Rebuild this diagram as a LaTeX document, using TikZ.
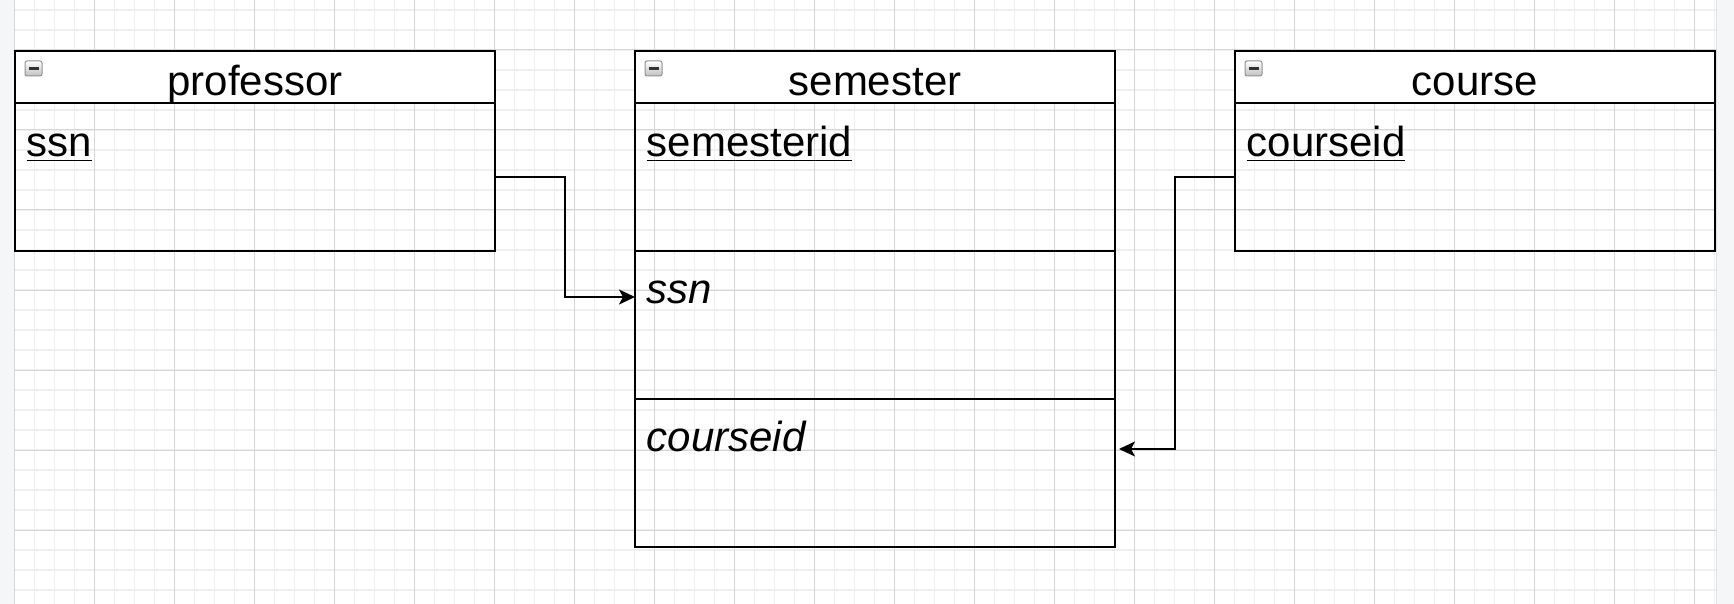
\documentclass[tikz,border=0pt]{standalone}
\usepackage{fontspec}
\setmainfont{Liberation Sans}
\usetikzlibrary{arrows.meta,positioning}
\definecolor{majorgrid}{HTML}{D6D6D6}
\definecolor{minorgrid}{HTML}{EFEFEF}
\definecolor{panel}{HTML}{F5F6F8}
\newcommand\keyattr[1]{\setbox0\hbox{#1}\rlap{\rule[-5pt]{\wd0}{1.6pt}}\box0}
\tikzset{
  tablehead/.style={draw, fill=white, line width=2pt, inner sep=0pt, outer sep=0pt,
    minimum width=480pt, minimum height=52pt, anchor=north west},
  tablerow/.style={draw, line width=2pt, inner sep=0pt, outer sep=0pt,
    minimum width=480pt, minimum height=148pt},
  title/.style={anchor=base, inner sep=0pt, font=\fontsize{42}{50}\selectfont},
  attr/.style={anchor=base west, inner sep=0pt, font=\fontsize{42}{50}\selectfont},
  minusicon/.style={draw=gray!85, line width=1pt, rounded corners=2pt, top color=white,
    bottom color=gray!50, minimum width=17pt, minimum height=15pt, inner sep=0pt,
    font=\color{black!80}},
  fk/.style={line width=2pt, -{Stealth[length=16pt, width=15pt, inset=4pt]}},
}
\begin{document}
\begin{tikzpicture}[
     x={(1pt,0pt)},y={(0pt,-1pt)},   % pixel axes, y downwards
  ]
  \useasboundingbox (0,0) rectangle (1734,604);
  % side panels
  \fill[panel] (0,0) rectangle (14,604);
  \fill[panel] (1716,0) rectangle (1734,604);
  \draw[black!12, line width=1pt] (14.5,0) -- (14.5,604);
  \draw[black!12, line width=1pt] (1716.5,0) -- (1716.5,604);
  % grid
  \foreach \gx in {0,...,85}
    \draw[minorgrid, line width=1.2pt] (14.3+20*\gx,0) -- (14.3+20*\gx,604);
  \foreach \gy in {0,...,29}
    \draw[minorgrid, line width=1.2pt] (15,10+20*\gy) -- (1716,10+20*\gy);
  \foreach \gx in {0,...,21}
    \draw[majorgrid, line width=1pt] (14.3+80*\gx,0) -- (14.3+80*\gx,604);
  \foreach \gy in {0,...,6}
    \draw[majorgrid, line width=1pt] (15,50+80*\gy) -- (1716,50+80*\gy);

  % professor
  \node[tablehead] (prof) at (15,51) {};
  \node[tablerow, below=0pt of prof] (prof-r1) {};
  \node[minusicon] (prof-icon) at ([xshift=18.5pt,yshift=-17.5pt]prof.north west) {\rule{10pt}{2.8pt}};
  \node[title] (prof-title) at ([yshift=-45pt]prof.north) {professor};
  \node[attr] (prof-ssn) at ([xshift=11.5pt,yshift=-53.5pt]prof-r1.north west) {\keyattr{ssn}};

  % semester
  \node[tablehead] (sem) at (635,51) {};
  \node[tablerow, below=0pt of sem] (sem-r1) {};
  \node[tablerow, below=0pt of sem-r1] (sem-r2) {};
  \node[tablerow, below=0pt of sem-r2] (sem-r3) {};
  \node[minusicon] (sem-icon) at ([xshift=18.5pt,yshift=-17.5pt]sem.north west) {\rule{10pt}{2.8pt}};
  \node[title] (sem-title) at ([yshift=-45pt]sem.north) {semester};
  \node[attr] (sem-id) at ([xshift=11.5pt,yshift=-53.5pt]sem-r1.north west) {\keyattr{semesterid}};
  \node[attr] (sem-ssn) at ([xshift=11.5pt,yshift=-52.5pt]sem-r2.north west) {\itshape ssn};
  \node[attr] (sem-cid) at ([xshift=11.5pt,yshift=-52.5pt]sem-r3.north west) {\itshape courseid};
  \coordinate (sem-in1) at ([yshift=-46pt]sem-r2.north west);
  \coordinate (sem-in2) at ([xshift=4pt,yshift=-50pt]sem-r3.north east);

  % course
  \node[tablehead] (course) at (1235,51) {};
  \node[tablerow, below=0pt of course] (course-r1) {};
  \node[minusicon] (course-icon) at ([xshift=18.5pt,yshift=-17.5pt]course.north west) {\rule{10pt}{2.8pt}};
  \node[title] (course-title) at ([yshift=-45pt]course.north) {course};
  \node[attr] (course-id) at ([xshift=11.5pt,yshift=-53.5pt]course-r1.north west) {\keyattr{courseid}};

  % foreign keys
  \draw[fk] (prof-r1.east) -- ++(70pt,0pt) |- (sem-in1);
  \draw[fk] (course-r1.west) -- ++(-60pt,0pt) |- (sem-in2);
\end{tikzpicture}
\end{document}
